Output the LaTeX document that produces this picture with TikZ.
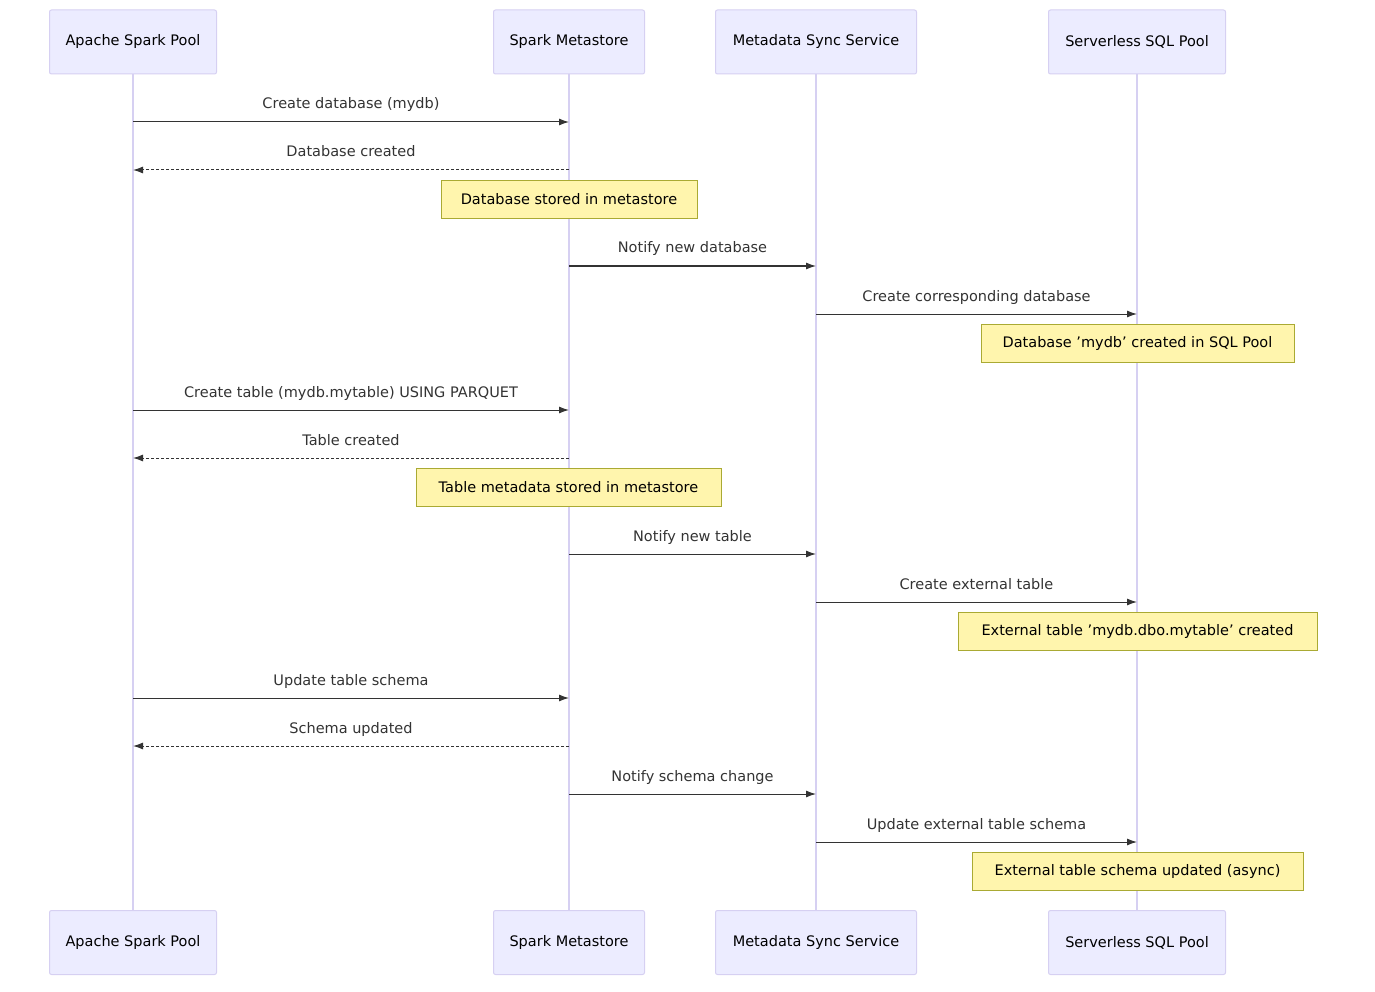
\documentclass[tikz,border=0pt]{standalone}
\usepackage{fontspec}
\setmainfont{DejaVu Sans}
\usetikzlibrary{arrows.meta}
\definecolor{actfill}{HTML}{ECECFF}
\definecolor{actline}{HTML}{D6D0F2}
\definecolor{notefill}{HTML}{FFF5AD}
\definecolor{noteline}{HTML}{AAAA33}
\definecolor{txt}{HTML}{333333}
\begin{document}
\begin{tikzpicture}[x=1pt,y=-1pt,
  every node/.style={font=\fontsize{14.5}{17}\selectfont},
  actor/.style={draw=actline,fill=actfill,rounded corners=2pt,minimum height=64pt,inner sep=0pt,line width=1pt},
  note/.style={draw=noteline,fill=notefill,minimum height=38pt,inner sep=0pt,line width=0.8pt},
  life/.style={draw=actline,line width=1.5pt},
  msg/.style={draw=txt,line width=1pt,-{Latex[length=10pt,width=7pt]}},
  ret/.style={msg,dash pattern=on 3pt off 2pt},
  lbl/.style={text=txt,anchor=base}]
\useasboundingbox (0,0) rectangle (1375,992);
\foreach \n/\x/\w/\t in {a/133/167/Apache Spark Pool,b/569/151/Spark Metastore,c/816/201/Metadata Sync Service,d/1137/177/Serverless SQL Pool}{
  \draw[life] (\x,74) -- (\x,910);
  \node[actor,minimum width=\w pt] (\n t) at (\x,42) {\t};
  \node[actor,minimum width=\w pt] (\n b) at (\x,942.5) {\t};
}
\foreach \y in {122,170,266,314,410,458,554,602,698,746,794,842}{
  \coordinate (a\y) at (133,\y); \coordinate (b\y) at (569,\y);
  \coordinate (c\y) at (816,\y); \coordinate (d\y) at (1137,\y);}
\newcommand{\mymsg}[5]{\draw[#1] (#2) -- (#3) node[lbl,pos=0.5,yshift=13pt] {#5};}
\mymsg{msg}{a122}{b122}{}{Create database (mydb)}
\mymsg{ret}{b170}{a170}{}{Database created}
\node[note,minimum width=256pt] (n1) at (569,199) {Database stored in metastore};
\mymsg{msg}{b266}{c266}{}{Notify new database}
\mymsg{msg}{c314}{d314}{}{Create corresponding database}
\node[note,minimum width=313pt] (n2) at (1137.5,343) {Database 'mydb' created in SQL Pool};
\mymsg{msg}{a410}{b410}{}{Create table (mydb.mytable) USING PARQUET}
\mymsg{ret}{b458}{a458}{}{Table created}
\node[note,minimum width=305pt] (n3) at (568.5,487) {Table metadata stored in metastore};
\mymsg{msg}{b554}{c554}{}{Notify new table}
\mymsg{msg}{c602}{d602}{}{Create external table}
\node[note,minimum width=359pt] (n4) at (1137.5,631) {External table 'mydb.dbo.mytable' created};
\mymsg{msg}{a698}{b698}{}{Update table schema}
\mymsg{ret}{b746}{a746}{}{Schema updated}
\mymsg{msg}{b794}{c794}{}{Notify schema change}
\mymsg{msg}{c842}{d842}{}{Update external table schema}
\node[note,minimum width=331pt] (n5) at (1137.5,871) {External table schema updated (async)};
\end{tikzpicture}
\end{document}
